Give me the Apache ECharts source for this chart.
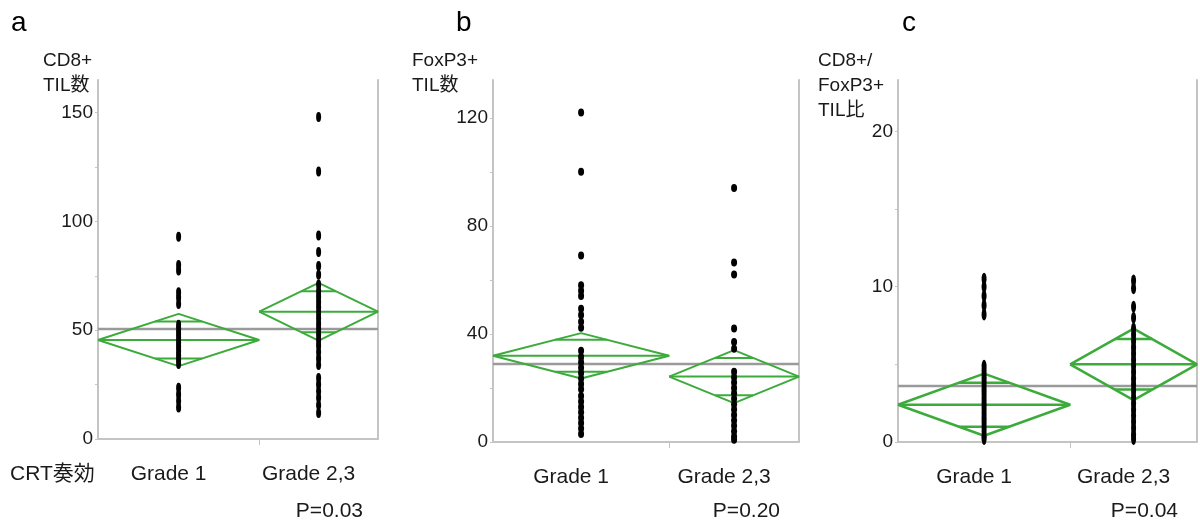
<!DOCTYPE html>
<html><head><meta charset="utf-8">
<script src="https://cdn.jsdelivr.net/npm/echarts@6/dist/echarts.min.js"></script>
<style>html,body{margin:0;padding:0;background:#fff}#c{width:1200px;height:525px}</style>
</head><body><div id="c"></div>
<script>
// ---------- data ----------
const categories = ['Grade 1', 'Grade 2,3'];
const groupSizes = [38, 28];
const panelLetters = ['a', 'b', 'c'];
const yTitles = ['CD8+\nTIL数', 'FoxP3+\nTIL数', 'CD8+/\nFoxP3+\nTIL比'];
const pValues = ['P=0.03', 'P=0.20', 'P=0.04'];
const xLeadLabel = 'CRT奏効';

// panel a: CD8+ TIL count
const cd8Grade1 = [93, 80, 77.5, 67.5, 65, 62, 52.5, 50.5, 48.5, 46.5, 44.5, 42.5, 40.5, 38.5, 36.5, 34.5, 23.5, 20.5, 17.5, 14.5];
const cd8Grade23 = [148, 123, 93.5, 86, 79.5, 75.5, 71, 68, 65.5, 63, 60.5, 58, 55.5, 53, 50.5, 48, 45.5, 43, 40, 37, 34, 28, 25, 22, 19, 15.5, 12];
const cd8Means = [45.5, 58.5];
const cd8CIHalf = [12, 13.3];
const cd8GrandMean = 50.6;
const cd8AxisMax = 165;
const cd8TickValues = [0, 25, 50, 75, 100, 125, 150];
const cd8LabelValues = [0, 50, 100, 150];

// panel b: FoxP3+ TIL count
const foxGrade1 = [122, 100, 69, 58, 56, 54, 49.3, 47, 44.5, 42.3, 33.8, 31.5, 29.5, 27.5, 25.5, 23.5, 21.5, 19.5, 17, 15, 13, 11, 9, 7, 5, 3];
const foxGrade23 = [94, 66.4, 62, 42, 37, 34.5, 26, 24, 22, 20, 18, 16, 14, 12, 10, 8, 6, 4, 2, 0.8];
const foxMeans = [31.9, 24.2];
const foxCIHalf = [8.4, 9.8];
const foxGrandMean = 28.9;
const foxAxisMax = 134;
const foxTickValues = [0, 20, 40, 60, 80, 100, 120];
const foxLabelValues = [0, 40, 80, 120];

// panel c: CD8+/FoxP3+ ratio
const ratioGrade1 = [10.5, 10, 9.4, 8.8, 8.2, 4.9, 4.6, 4.3, 4.0, 3.7, 3.4, 3.1, 2.8, 2.5, 2.2, 1.9, 1.6, 1.3, 1.0, 0.7, 0.4, 0.2];
const ratioGrade23 = [10.4, 9.9, 8.7, 8.0, 7.3, 6.9, 6.5, 6.1, 5.7, 5.3, 4.9, 4.5, 4.1, 3.7, 3.3, 2.9, 2.5, 2.1, 1.7, 1.3, 0.9, 0.5, 0.2];
const ratioMeans = [2.4, 5.0];
const ratioCIHalf = [2.0, 2.3];
const ratioGrandMean = 3.6;
const ratioAxisMax = 23.3;
const ratioTickValues = [0, 5, 10, 15, 20];
const ratioLabelValues = [0, 10, 20];

// ---------- layout / style ----------
const FONT = "'Liberation Sans', Arial, 'Noto Sans CJK JP', sans-serif";
const GREEN = '#3cab3c';
const AXIS = '#c4c4c4';
const TEXT = '#1a1a1a';

const panels = [
  { groups: [cd8Grade1, cd8Grade23], means: cd8Means, half: cd8CIHalf, grand: cd8GrandMean, max: cd8AxisMax, ticks: cd8TickValues, labels: cd8LabelValues,
    grid: { left: 98, top: 80, width: 280, height: 359 }, sym: [5, 10], lw: 2,
    letterX: 11, titleX: 43, pRight: 363 },
  { groups: [foxGrade1, foxGrade23], means: foxMeans, half: foxCIHalf, grand: foxGrandMean, max: foxAxisMax, ticks: foxTickValues, labels: foxLabelValues,
    grid: { left: 493, top: 80, width: 306, height: 362 }, sym: [6, 8], lw: 2,
    letterX: 456, titleX: 412, pRight: 780 },
  { groups: [ratioGrade1, ratioGrade23], means: ratioMeans, half: ratioCIHalf, grand: ratioGrandMean, max: ratioAxisMax, ticks: ratioTickValues, labels: ratioLabelValues,
    grid: { left: 898, top: 80, width: 299, height: 362 }, sym: [5, 12], lw: 2.5,
    letterX: 902, titleX: 818, pRight: 1178 }
];

const total = groupSizes.reduce((a, b) => a + b, 0);
function groupSpan(i) {
  let x0 = 0;
  for (let k = 0; k < i; k++) x0 += groupSizes[k];
  const x1 = x0 + groupSizes[i];
  return { x0, x1, xc: (x0 + x1) / 2 };
}

const grids = [], xAxes = [], yAxes = [], series = [], graphics = [];
panels.forEach((p, pi) => {
  grids.push(Object.assign({}, p.grid));
  xAxes.push({
    type: 'value', gridIndex: pi, min: 0, max: total,
    splitLine: { show: false },
    axisLine: { show: true, lineStyle: { color: AXIS, width: 2 } },
    axisTick: { show: true, customValues: [groupSizes[0]], length: 6, lineStyle: { color: AXIS, width: 1 } },
    axisLabel: {
      show: true, customValues: categories.map((c, i) => groupSpan(i).xc),
      formatter: v => { for (let i = 0; i < categories.length; i++) { const s = groupSpan(i); if (v >= s.x0 && v <= s.x1) return categories[i]; } return ''; },
      fontFamily: FONT, fontSize: 21, color: TEXT, margin: 25, padding: [0, 20, 0, 0]
    }
  });
  yAxes.push({
    type: 'value', gridIndex: pi, min: 0, max: p.max, position: 'left',
    splitLine: { show: false },
    axisLine: { show: true, lineStyle: { color: AXIS, width: 2 } },
    axisTick: { show: true, customValues: p.ticks, length: 3, lineStyle: { color: AXIS, width: 1 } },
    axisLabel: { show: true, customValues: p.labels, fontFamily: FONT, fontSize: 19, color: TEXT, margin: 5 }
  });
  yAxes.push({
    type: 'value', gridIndex: pi, min: 0, max: p.max, position: 'right',
    splitLine: { show: false },
    axisLine: { show: true, lineStyle: { color: AXIS, width: 2 } },
    axisTick: { show: false }, axisLabel: { show: false }
  });
  const xi = pi, yi = pi * 2;
  const lineBase = { type: 'line', xAxisIndex: xi, yAxisIndex: yi, symbol: 'none', silent: true, animation: false };
  // grand mean
  series.push(Object.assign({}, lineBase, { data: [[0, p.grand], [total, p.grand]], lineStyle: { color: '#9a9a9a', width: 2.5 }, z: 2 }));
  // means diamonds
  p.means.forEach((m, gi) => {
    const s = groupSpan(gi), h = p.half[gi], W = s.x1 - s.x0;
    const k = 1 / Math.SQRT2, ow = (W / 2) * (1 - k);
    const st = { color: GREEN, width: p.lw };
    series.push(Object.assign({}, lineBase, { z: 3, lineStyle: st, data: [[s.x0, m], [s.xc, m + h], [s.x1, m], [s.xc, m - h], [s.x0, m]] }));
    series.push(Object.assign({}, lineBase, { z: 3, lineStyle: st, data: [[s.x0, m], [s.x1, m]] }));
    series.push(Object.assign({}, lineBase, { z: 3, lineStyle: st, data: [[s.xc - ow, m + h * k], [s.xc + ow, m + h * k]] }));
    series.push(Object.assign({}, lineBase, { z: 3, lineStyle: st, data: [[s.xc - ow, m - h * k], [s.xc + ow, m - h * k]] }));
  });
  // points
  p.groups.forEach((vals, gi) => {
    const s = groupSpan(gi);
    series.push({ type: 'scatter', xAxisIndex: xi, yAxisIndex: yi, symbol: 'circle', symbolSize: p.sym, z: 4, silent: true, animation: false,
      itemStyle: { color: '#000', opacity: 1 }, data: vals.map(v => [s.xc, v]) });
  });
  // texts
  graphics.push({ type: 'text', left: p.letterX, top: 9, style: { text: panelLetters[pi], font: `28px ${FONT}`, fill: '#000' } });
  graphics.push({ type: 'text', left: p.titleX, top: 48, style: { text: yTitles[pi], font: `19px ${FONT}`, fill: TEXT, lineHeight: 25 } });
  graphics.push({ type: 'text', right: 1200 - p.pRight, top: 501, style: { text: pValues[pi], font: `21px ${FONT}`, fill: TEXT } });
});
graphics.push({ type: 'text', left: 10, top: 464, style: { text: xLeadLabel, font: `21px ${FONT}`, fill: TEXT } });

const chart = echarts.init(document.getElementById('c'), null, { renderer: 'canvas' });
chart.setOption({
  backgroundColor: '#fff', animation: false,
  grid: grids, xAxis: xAxes, yAxis: yAxes, series: series, graphic: graphics
});
</script></body></html>
